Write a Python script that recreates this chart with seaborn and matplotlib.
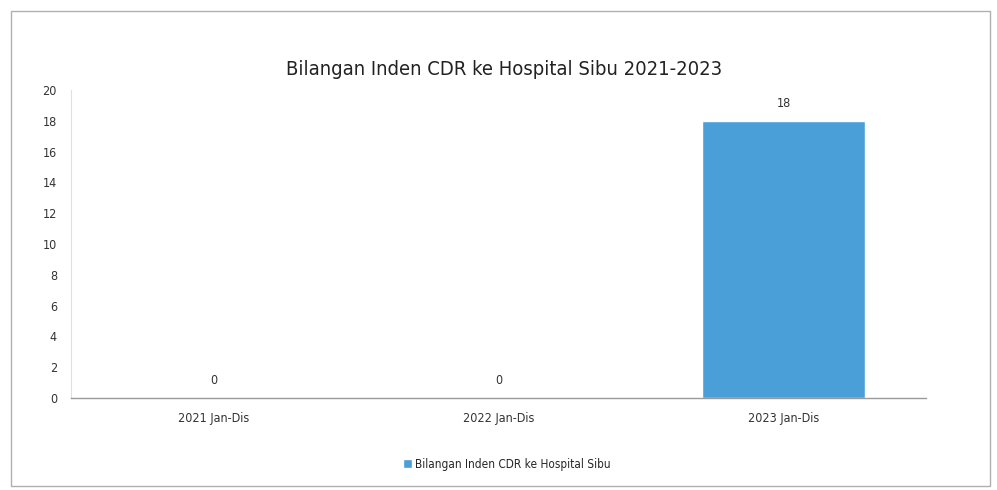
import matplotlib
matplotlib.use("Agg")
import matplotlib.pyplot as plt
import seaborn as sns
import pandas as pd
from matplotlib.patches import Rectangle

# data
categories = ["2021 Jan-Dis", "2022 Jan-Dis", "2023 Jan-Dis"]
values = [0, 0, 18]
series_name = "Bilangan Inden CDR ke Hospital Sibu"
title = "Bilangan Inden CDR ke Hospital Sibu 2021-2023"
yticks = [0, 2, 4, 6, 8, 10, 12, 14, 16, 18, 20]

df = pd.DataFrame({"kategori": categories, "bilangan": values})

sns.set_theme(style="white")
plt.rcParams["font.family"] = ["DejaVu Sans"]
plt.rcParams["font.stretch"] = "condensed"

fig = plt.figure(figsize=(9.97, 4.9), dpi=100)
ax = fig.add_axes([0.071, 0.188, 0.858, 0.628])

sns.barplot(data=df, x="kategori", y="bilangan", color="#4a9fd8",
            width=0.57, ax=ax, saturation=1, label=series_name)

for i, v in enumerate(values):
    ax.text(i, v + 0.7, str(v), ha="center", va="bottom", fontsize=9,
            color="#333333", fontstretch="condensed")

ax.set_ylim(0, 20)
ax.set_yticks(yticks)
ax.tick_params(axis="both", labelsize=9, colors="#333333", length=0, pad=10)
ax.set_xlabel("")
ax.set_ylabel("")
for s in ["top", "right"]:
    ax.spines[s].set_visible(False)
ax.spines["left"].set_color("#e0e0e0")
ax.spines["left"].set_linewidth(0.8)
ax.spines["bottom"].set_color("#9a9a9a")
ax.spines["bottom"].set_linewidth(1)

fig.text(0.506, 0.858, title, ha="center", va="center", fontsize=14.5,
         color="#222222", fontstretch="condensed")

ax.legend(loc="center", bbox_to_anchor=(0.51, -0.215), frameon=False, fontsize=8.5,
          handlelength=0.7, handleheight=0.7, handletextpad=0.3)

# outer chart frame
fig.patches.append(Rectangle((0.011, 0.008), 0.982, 0.97, transform=fig.transFigure,
                             fill=False, edgecolor="#b0b0b0", linewidth=1))

fig.savefig("out.png", dpi=100, facecolor="white")
